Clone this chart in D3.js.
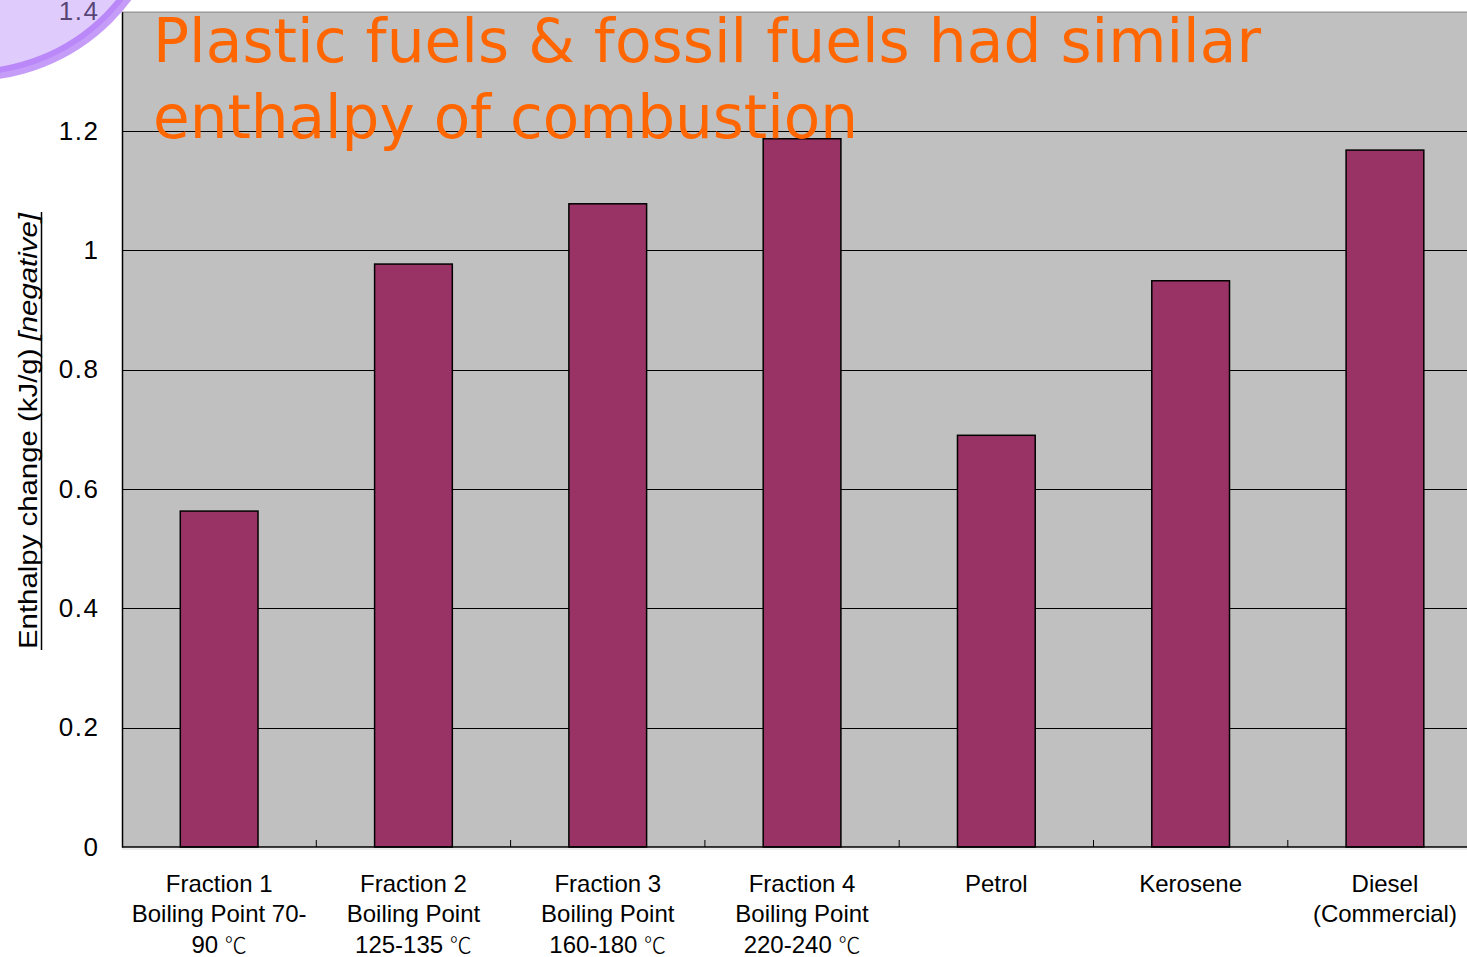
<!DOCTYPE html>
<html><head><meta charset="utf-8">
<script src="https://cdn.jsdelivr.net/npm/d3@7"></script>
<style>html,body{margin:0;padding:0;background:#fff;overflow:hidden}</style>
</head><body>
<svg id="c" width="1467" height="957"></svg>
<script>
const categories = ["Fraction 1","Fraction 2","Fraction 3","Fraction 4","Petrol","Kerosene","Diesel"];
const labelLines = [
  ["Fraction 1","Boiling Point 70-","90 ℃"],
  ["Fraction 2","Boiling Point","125-135 ℃"],
  ["Fraction 3","Boiling Point","160-180 ℃"],
  ["Fraction 4","Boiling Point","220-240 ℃"],
  ["Petrol"],
  ["Kerosene"],
  ["Diesel","(Commercial)"]
];
const values = [0.563, 0.977, 1.078, 1.187, 0.690, 0.949, 1.168];
const yTicks = [0, 0.2, 0.4, 0.6, 0.8, 1, 1.2, 1.4];
const titleLines = ["Plastic fuels & fossil fuels had similar","enthalpy of combustion"];

const svg = d3.select("#c");
const pLeft = 122, pTop = 11.67, pBottom = 847, pRight = 122 + 7*194.3;
const x = d3.scaleBand().domain(categories).range([pLeft, pRight]).paddingInner(0.6).paddingOuter(0.3);
const y = d3.scaleLinear().domain([0, 1.4]).range([pBottom, pTop]);

// plot background
svg.append("rect").attr("x", pLeft).attr("y", y(1.4)).attr("width", pRight-pLeft).attr("height", pBottom - y(1.4)).attr("fill", "#c0c0c0");
svg.append("line").attr("x1", pLeft).attr("x2", 1467).attr("y1", y(1.4)+0.5).attr("y2", y(1.4)+0.5).attr("stroke","#8a8a8a").attr("stroke-width",1);

// gridlines
svg.append("g").selectAll("line").data(yTicks.filter(t=>t>0 && t<1.4)).join("line")
  .attr("x1", pLeft).attr("x2", pRight).attr("y1", d=>Math.round(y(d))+0.5).attr("y2", d=>Math.round(y(d))+0.5)
  .attr("stroke","#000").attr("stroke-width",1);

// bars
svg.append("g").selectAll("rect").data(values).join("rect")
  .attr("x", (d,i)=>x(categories[i])).attr("width", x.bandwidth())
  .attr("y", d=>y(d)).attr("height", d=>pBottom - y(d))
  .attr("fill","#993366").attr("stroke","#000").attr("stroke-width",1.5);

// y axis
const yAxis = d3.axisLeft(y).tickValues(yTicks).tickSize(0).tickPadding(22.5).tickFormat(d=>String(+d.toFixed(1)));
const gy = svg.append("g").attr("transform",`translate(${pLeft},0)`).call(yAxis);
gy.select(".domain").attr("stroke","#000").attr("stroke-width",1.5);
gy.selectAll("text").attr("font-family","Liberation Sans, Arial, sans-serif").attr("font-size",26).attr("letter-spacing",1.5).attr("fill","#000");

// x axis
svg.append("line").attr("x1", pLeft).attr("x2", 1467).attr("y1", pBottom).attr("y2", pBottom).attr("stroke","#000").attr("stroke-width",1.5);
svg.append("line").attr("x1", pLeft).attr("x2", 1467).attr("y1", pBottom+2).attr("y2", pBottom+2).attr("stroke","#d8d8d8").attr("stroke-width",1);
const step = x.step();
svg.append("g").selectAll("line").data(categories.slice(0,-1)).join("line")
  .attr("x1", d=>x(d)+x.bandwidth()+(step-x.bandwidth())/2).attr("x2", d=>x(d)+x.bandwidth()+(step-x.bandwidth())/2)
  .attr("y1", pBottom).attr("y2", pBottom-7).attr("stroke","#000").attr("stroke-width",1);

const xl = svg.append("g").attr("font-family","Liberation Sans, Arial, sans-serif").attr("font-size",24).attr("fill","#000").attr("text-anchor","middle");
labelLines.forEach((lines,i)=>{
  const cx = x(categories[i]) + x.bandwidth()/2;
  const t = xl.append("text").attr("x", cx).attr("y", 891.5);
  lines.forEach((ln,j)=>{
    const ts = t.append("tspan").attr("x", cx).attr("dy", j===0?0:30.5);
    const parts = ln.split("℃");
    ts.append("tspan").text(parts[0]);
    if (parts.length>1) ts.append("tspan").attr("font-family","Noto Sans CJK SC").attr("font-size",22).attr("font-weight",300).text("℃");
  });
});

// y axis title
const yt = svg.append("text").attr("transform","translate(37,431) rotate(-90)").attr("text-anchor","middle")
  .attr("font-family","Liberation Sans, Arial, sans-serif").attr("font-size",26).attr("fill","#000")
  .attr("textLength",436).attr("lengthAdjust","spacingAndGlyphs");
yt.append("tspan").text("Enthalpy change (kJ/g) ");
yt.append("tspan").attr("font-style","italic").text("[negative]");
svg.append("line").attr("x1",41.5).attr("x2",41.5).attr("y1",431-219).attr("y2",431+219).attr("stroke","#000").attr("stroke-width",1.5);

// title
const tt = svg.append("g").attr("font-family","DejaVu Sans, Verdana, sans-serif").attr("fill","#ff6600").attr("font-size",60);
titleLines.forEach((ln,i)=>{
  const t = tt.append("text").attr("x",153).attr("y", i===0?62:138).text(ln);
  t.attr("textLength", i===0?1108:705).attr("lengthAdjust","spacingAndGlyphs");
});

// decorative circle (top-left)
svg.append("circle").attr("cx",-30).attr("cy",-120).attr("r",195)
  .attr("fill","rgb(189,147,248)").attr("fill-opacity",0.47)
  .attr("stroke","rgb(160,90,245)").attr("stroke-opacity",0.6).attr("stroke-width",12);
</script>
</body></html>
